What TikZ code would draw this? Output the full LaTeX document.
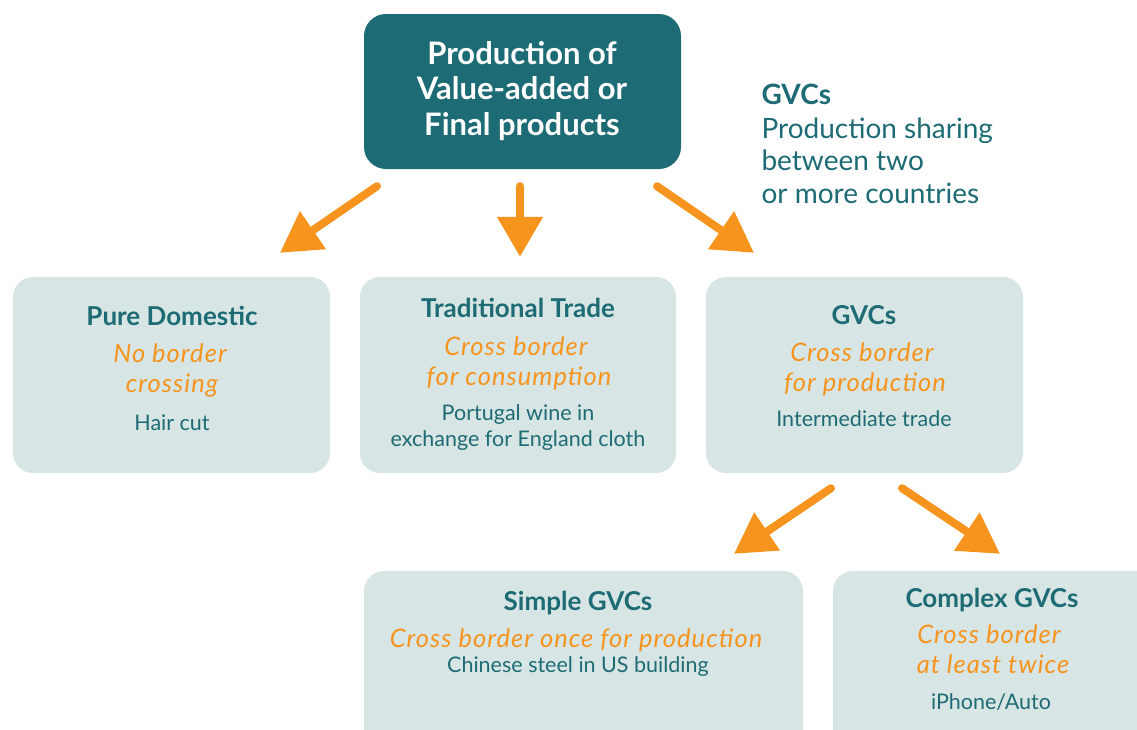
\documentclass[tikz,border=0pt]{standalone}
\usepackage{fontspec}
\setmainfont{Lato}
\newfontfamily\itfam[LetterSpace=4]{Lato}
\usetikzlibrary{arrows.meta}
\definecolor{teal}{HTML}{1D6B74}
\definecolor{lightbox}{HTML}{D7E5E4}
\definecolor{orng}{HTML}{F7941D}
\tikzset{
  catbox/.style={fill=lightbox, rounded corners=20pt, inner sep=0pt},
  topbox/.style={fill=teal, rounded corners=22pt, inner sep=0pt},
  ttl/.style={anchor=base, text=teal, font=\fontsize{26}{30}\selectfont\bfseries},
  itl/.style={anchor=base, text=orng, font=\itfam\fontsize{25.5}{30}\selectfont\itshape},
  sml/.style={anchor=base, text=teal, font=\fontsize{21.5}{25}\selectfont},
  toptxt/.style={anchor=base, text=white, font=\fontsize{31}{35}\selectfont\bfseries},
  note/.style={anchor=base west, text=teal, font=\fontsize{28}{32}\selectfont},
  arr/.style={draw=orng, line width=8pt, line cap=round, -{Triangle[length=40pt,width=44pt]}}
}
\begin{document}
\begin{tikzpicture}[x=1pt,y=-1pt]
\useasboundingbox (0,0) rectangle (1137,729);
% boxes
\fill[topbox] (364,14) rectangle (681,169);
\node[minimum width=317pt,minimum height=155pt] (top) at (522.5,91.5) {};
\fill[catbox] (13,277) rectangle (330,473);
\node[minimum width=317pt,minimum height=196pt] (pd) at (171.5,375) {};
\fill[catbox] (360,277) rectangle (676,473);
\node[minimum width=316pt,minimum height=196pt] (tt) at (518,375) {};
\fill[catbox] (706,277) rectangle (1023,473);
\node[minimum width=317pt,minimum height=196pt] (gv) at (864.5,375) {};
\fill[catbox] (364,571) rectangle (803,760);
\node[minimum width=439pt,minimum height=158pt] (sg) at (583.5,650) {};
\fill[catbox] (833,571) rectangle (1160,760);
\node[minimum width=304pt,minimum height=158pt] (cg) at (985,650) {};
% top texts
\node[toptxt] (t1) at (522,64) {Production of};
\node[toptxt] (t2) at (522,99) {Value-added or};
\node[toptxt] (t3) at (522,135) {Final products};
% note
\node[note, font=\fontsize{28}{32}\selectfont\bfseries] (n1) at (758,104) {GVCs};
\node[note] (n2) at (758,138) {Production sharing};
\node[note] (n3) at (758,170) {between two};
\node[note] (n4) at (758,203) {or more countries};
% pure domestic
\node[ttl] (pd1) at (172,325) {Pure Domestic};
\node[itl] (pd2) at (170,362) {No border};
\node[itl] (pd3) at (172,392) {crossing};
\node[sml] (pd4) at (172,430) {Hair cut};
% traditional trade
\node[ttl] (tt1) at (518,317) {Traditional Trade};
\node[itl] (tt2) at (516,355) {Cross border};
\node[itl] (tt3) at (519,385) {for consumption};
\node[sml] (tt4) at (518,420) {Portugal wine in};
\node[sml] (tt5) at (518,446) {exchange for England cloth};
% GVCs
\node[ttl] (gv1) at (864,324) {GVCs};
\node[itl] (gv2) at (862,361) {Cross border};
\node[itl] (gv3) at (865,391) {for production};
\node[sml] (gv4) at (864,426) {Intermediate trade};
% simple
\node[ttl] (sg1) at (578,610) {Simple GVCs};
\node[itl] (sg2) at (576,647) {Cross border once for production};
\node[sml] (sg3) at (578,672) {Chinese steel in US building};
% complex
\node[ttl] (cg1) at (992,607) {Complex GVCs};
\node[itl] (cg2) at (989,643) {Cross border};
\node[itl] (cg3) at (993,673) {at least twice};
\node[sml] (cg4) at (991,709) {iPhone/Auto};
% arrows
\draw[arr] ([xshift=-145.5pt,yshift=-17pt]top.south) -- ([xshift=108.5pt,yshift=24pt]pd.north);
\draw[arr] ([xshift=-2.5pt,yshift=-17pt]top.south) -- ([xshift=2pt,yshift=20pt]tt.north);
\draw[arr] ([xshift=134.5pt,yshift=-17pt]top.south) -- ([xshift=-110.5pt,yshift=24pt]gv.north);
\draw[arr] ([xshift=-33.5pt,yshift=-15pt]gv.south) -- ([xshift=150.5pt,yshift=17pt]sg.north);
\draw[arr] ([xshift=37.5pt,yshift=-15pt]gv.south) -- ([xshift=15pt,yshift=17pt]cg.north);
\end{tikzpicture}
\end{document}
